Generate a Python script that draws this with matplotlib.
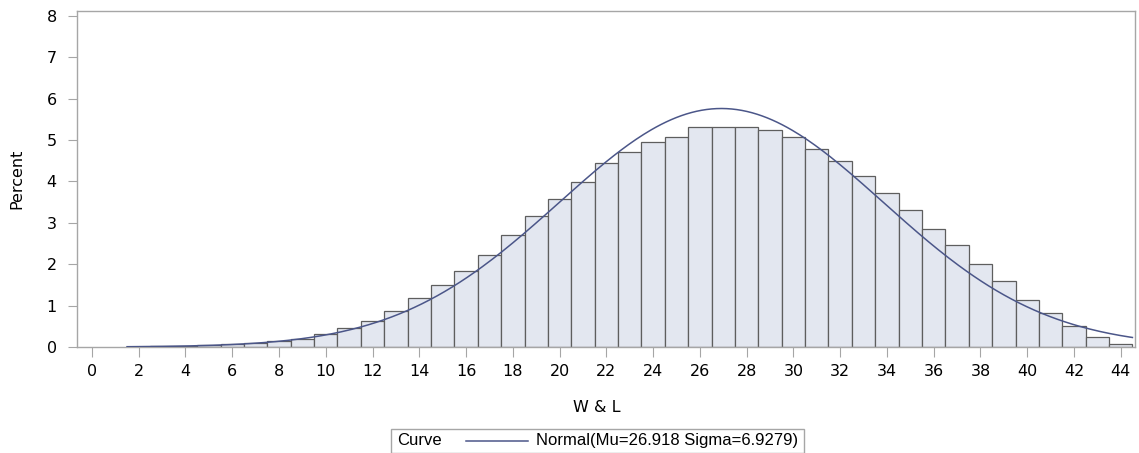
import numpy as np
import matplotlib.pyplot as plt

# histogram of W & L, percent per unit-width bin
bins = list(range(2, 45))
percent = [0.01, 0.015, 0.02, 0.04, 0.065, 0.10, 0.14, 0.20, 0.31, 0.47,
           0.63, 0.86, 1.19, 1.49, 1.83, 2.23, 2.70, 3.16, 3.58, 3.98,
           4.44, 4.70, 4.94, 5.07, 5.32, 5.31, 5.31, 5.23, 5.07, 4.77,
           4.49, 4.12, 3.72, 3.30, 2.86, 2.46, 2.00, 1.59, 1.14, 0.81,
           0.50, 0.23, 0.07]

# fitted normal curve parameters (from legend)
mu = 26.918
sigma = 6.9279

x_ticks = list(range(0, 45, 2))
y_ticks = list(range(0, 9))

fill = '#E3E7F0'
edge = '#5E5E5E'
curve_col = '#4B5689'
frame = '#A6A6A6'

plt.rcParams['font.family'] = ['DejaVu Sans']

fig = plt.figure(figsize=(11.39, 4.53), dpi=100)
ax = fig.add_axes([77 / 1139, 1 - 347 / 453, (1135 - 77) / 1139, (347 - 10.7) / 453])

ax.bar(bins, percent, width=1.0, color=fill, edgecolor=edge, linewidth=0.9, zorder=2)

xs = np.linspace(bins[0] - 0.5, bins[-1] + 0.5, 400)
ys = 100 * np.exp(-0.5 * ((xs - mu) / sigma) ** 2) / (sigma * np.sqrt(2 * np.pi))
ax.plot(xs, ys, color=curve_col, linewidth=1.1, zorder=3)

ax.set_xlim(-0.64, 44.61)
ax.set_ylim(0, 8.12)
ax.set_xticks(x_ticks)
ax.set_yticks(y_ticks)
ax.tick_params(axis='x', length=7, color=frame, labelsize=11.5, pad=5)
ax.tick_params(axis='y', length=6.5, color=frame, labelsize=11.5, pad=8)
for s in ax.spines.values():
    s.set_color(frame)
    s.set_linewidth(1.0)

ax.set_ylabel('Percent', fontsize=11.5, labelpad=16)
fig.text(597 / 1139, 1 - 408 / 453, 'W & L', ha='center', va='center', fontsize=11.5)

# legend box
lx0, lx1 = 391 / 1139, 804 / 1139
ly0, ly1 = 1 - 453 / 453 + 0.001, 1 - 429 / 453
fig.patches.append(plt.Rectangle((lx0, ly0), lx1 - lx0, ly1 - ly0, transform=fig.transFigure,
                                 fill=False, edgecolor=frame, linewidth=1.0))
ymid = (ly0 + ly1) / 2
fig.text(397 / 1139, ymid, 'Curve', ha='left', va='center', fontsize=12, family='Liberation Sans')
fig.lines.append(plt.Line2D([466 / 1139, 528 / 1139], [ymid, ymid], transform=fig.transFigure,
                            color=curve_col, linewidth=1.1))
fig.text(536 / 1139, ymid, 'Normal(Mu=26.918 Sigma=6.9279)', ha='left', va='center',
         fontsize=12, family='Liberation Sans')

fig.savefig('out.png', dpi=100)
